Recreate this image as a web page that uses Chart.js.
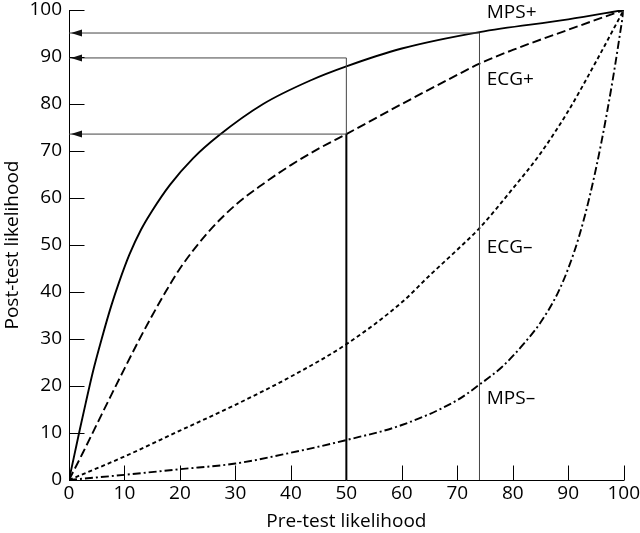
<!DOCTYPE html>
<html>
<head>
<meta charset="utf-8">
<script src="https://cdn.jsdelivr.net/npm/chart.js@4.4.1/dist/chart.umd.min.js"></script>
<style>
html,body{margin:0;padding:0;background:#fff;}
#wrap{width:640px;height:533px;}
</style>
</head>
<body>
<div id="wrap"><canvas id="c" width="640" height="533"></canvas></div>
<script>
// ---- data ----
const xTickValues = [0,10,20,30,40,50,60,70,80,90,100];
const yTickValues = [0,10,20,30,40,50,60,70,80,90,100];

const mpsPosX = [0,1,2,3,4.3,6,7.6,9,10.9,13,15,18.2,22.4,27,35,43.5,50,60,74,90,100];
const mpsPosY = [0,5.5,11,16.3,23,30.5,37,42,48,53.3,57.3,62.8,68.5,73.3,80,85,88,91.8,95.3,98,100];

const ecgPosX = [0,2.5,5,7.5,10,12.5,15,17.5,20,25,30,35,40,45,50,60,70,74,80,90,100];
const ecgPosY = [0,5.8,11.8,17.8,23.7,29.5,35,40.2,45,52.6,58.5,63,67,70.5,73.6,80,86.2,88.6,91.5,95.8,100];

const ecgNegX = [0,10,20,30,40,50,60,65,70,74,80,85,90,95,100];
const ecgNegY = [0,5,10.5,16,22,28.9,37.8,43.5,49,53.6,62,69.5,78.5,89,100];

const mpsNegX = [0,10,20,30,40,50,60,70,74,78,82,85,88,90,92,94,96,98,100];
const mpsNegY = [0,1.1,2.3,3.5,5.8,8.5,11.7,17,20.3,24,29,33.5,39.5,45,52,61,72,85,100];

// guide arrows: from (fromX, level) back to the y axis
const arrowLevels = [95.1, 89.8, 73.6];
const arrowFromX  = [74, 50, 50];

const curveLabels = ["MPS+", "ECG+", "ECG–", "MPS–"];
const labelX = [75.3, 75.3, 75.3, 75.3];
const labelY = [99.4, 85.1, 49.4, 17.4];

// ---- build datasets ----
function pts(xs, ys){ return xs.map((x,i)=>({x:x, y:ys[i]})); }
const ds = [];
function curve(xs, ys, dash){
  ds.push({data: pts(xs,ys), borderColor:'#000', borderWidth:1.9, borderDash:dash,
    pointRadius:0, fill:false, cubicInterpolationMode:'monotone', showLine:true});
}
function guide(data, color, width){
  ds.push({data: data, borderColor:color, borderWidth:width, pointRadius:0, fill:false,
    tension:0, showLine:true});
}
arrowLevels.forEach((lv,i)=>{
  guide([{x:arrowFromX[i], y:lv},{x:0, y:lv}], '#444', 1);
});
guide([{x:74, y:0},{x:74, y:arrowLevels[0]}], '#444', 1);
guide([{x:50, y:arrowLevels[2]},{x:50, y:arrowLevels[1]}], '#444', 1);
guide([{x:50, y:0},{x:50, y:arrowLevels[2]}], '#000', 2);

curve(mpsPosX, mpsPosY, []);
curve(ecgPosX, ecgPosY, [9,4]);
curve(ecgNegX, ecgNegY, [4,3]);
curve(mpsNegX, mpsNegY, [8,3,2,3]);

const FONT = "'Open Sans', 'DejaVu Sans', sans-serif";

const extras = {
  id:'extras',
  afterDatasetsDraw(chart){
    const ctx = chart.ctx, xs = chart.scales.x, ys = chart.scales.y;
    ctx.save();
    ctx.strokeStyle = '#000'; ctx.lineWidth = 1;
    const x0 = Math.round(xs.getPixelForValue(0)) + 0.5;
    const yb = Math.round(ys.getPixelForValue(0)) + 0.5;
    yTickValues.forEach(v=>{
      if (v === 0) return;
      const py = Math.round(ys.getPixelForValue(v)) + 0.5;
      ctx.beginPath(); ctx.moveTo(x0, py); ctx.lineTo(x0+15, py); ctx.stroke();
    });
    xTickValues.forEach(v=>{
      if (v === 0) return;
      const px = Math.round(xs.getPixelForValue(v)) + 0.5;
      ctx.beginPath(); ctx.moveTo(px, yb); ctx.lineTo(px, yb-15); ctx.stroke();
    });
    ctx.fillStyle = '#111';
    arrowLevels.forEach(lv=>{
      const tip = xs.getPixelForValue(0) + 2;
      const py = ys.getPixelForValue(lv);
      ctx.beginPath();
      ctx.moveTo(tip, py);
      ctx.lineTo(tip+11, py-3.5);
      ctx.lineTo(tip+11, py+3.5);
      ctx.closePath(); ctx.fill();
    });
    ctx.fillStyle = '#000';
    ctx.font = '19px ' + FONT;
    ctx.textBaseline = 'middle'; ctx.textAlign = 'left';
    curveLabels.forEach((t,i)=>{
      ctx.fillText(t, xs.getPixelForValue(labelX[i]), ys.getPixelForValue(labelY[i]));
    });
    ctx.restore();
  }
};

new Chart(document.getElementById('c'), {
  type:'scatter',
  data:{datasets:ds},
  options:{
    responsive:false, animation:false,
    layout:{padding:{top:10, right:16, left:0, bottom:0}},
    plugins:{legend:{display:false}, tooltip:{enabled:false}},
    scales:{
      x:{type:'linear', min:0, max:100,
        afterFit(s){ s.height = 53; },
        afterBuildTicks(s){ s.ticks = xTickValues.map(v=>({value:v})); },
        grid:{display:false, drawTicks:false},
        border:{display:true, color:'#000', width:1},
        ticks:{color:'#000', padding:0, maxRotation:0, autoSkip:false, font:{family:FONT, size:19, lineHeight:1.45}},
        title:{display:true, text:'Pre-test likelihood', color:'#000', font:{family:FONT, size:19, lineHeight:1.2}, padding:{top:0,bottom:0}}
      },
      y:{type:'linear', min:0, max:100,
        afterFit(s){ s.width = 69; },
        afterBuildTicks(s){ s.ticks = yTickValues.map(v=>({value:v})); },
        grid:{display:false, drawTicks:false},
        border:{display:true, color:'#000', width:1},
        ticks:{color:'#000', padding:7, autoSkip:false, font:{family:FONT, size:19, lineHeight:0.3}},
        title:{display:true, text:'Post-test likelihood', color:'#000', font:{family:FONT, size:19, lineHeight:1.2}, padding:{top:1,bottom:0}}
      }
    }
  },
  plugins:[extras]
});
</script>
</body>
</html>
